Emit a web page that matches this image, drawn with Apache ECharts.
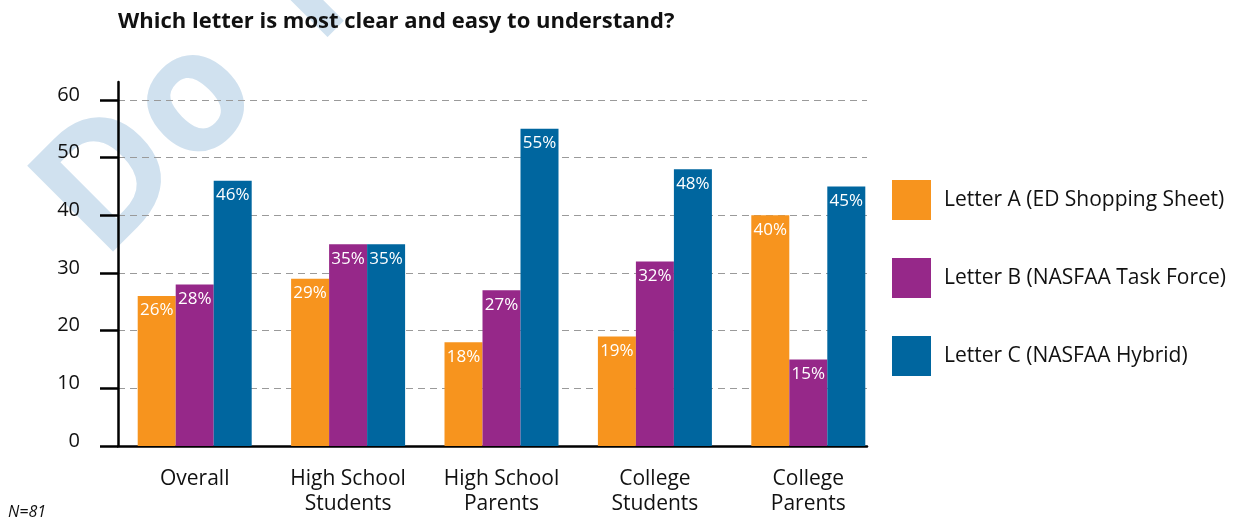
<!DOCTYPE html>
<html>
<head>
<meta charset="utf-8">
<script src="https://cdn.jsdelivr.net/npm/echarts@6/dist/echarts.min.js"></script>
<style>
  html, body { margin: 0; padding: 0; background: #fff; }
  #chart { width: 1249px; height: 525px; }
</style>
</head>
<body>
<div id="chart"></div>
<script>
// chart data
const categories = ['Overall', 'High School\nStudents', 'High School\nParents', 'College\nStudents', 'College\nParents'];
const seriesNames = ['Letter A (ED Shopping Sheet)', 'Letter B (NASFAA Task Force)', 'Letter C (NASFAA Hybrid)'];
const letterA = [26, 29, 18, 19, 40];
const letterB = [28, 35, 27, 32, 15];
const letterC = [46, 35, 55, 48, 45];
const yTicks = [0, 60, 10]; // min, max, step

const colors = ['#F7941E', '#962889', '#00669F'];
const font = '"Open Sans", "Noto Sans", sans-serif';

const chart = echarts.init(document.getElementById('chart'));

function barSeries(name, data, color) {
  return {
    name: name,
    type: 'bar',
    xAxisIndex: 0,
    yAxisIndex: 0,
    data: data,
    barWidth: 38,
    barGap: '0%',
    itemStyle: { color: color },
    label: {
      show: true,
      position: 'insideTop',
      distance: 6,
      formatter: '{c}%',
      color: '#fff',
      fontSize: 17,
      fontFamily: font
    },
    z: 3
  };
}

chart.setOption({
  animation: false,
  title: {
    text: 'Which letter is most clear and easy to understand?',
    left: 113,
    top: 6,
    textStyle: { fontSize: 22, fontWeight: 'bold', color: '#111', fontFamily: font }
  },
  legend: {
    orient: 'vertical',
    left: 887,
    top: 175,
    itemWidth: 39,
    itemHeight: 40,
    itemGap: 38,
    icon: 'rect',
    data: seriesNames,
    textStyle: { fontSize: 21, color: '#111', fontFamily: font, padding: [0, 0, 0, 8] }
  },
  grid: [
    { left: 118, right: 364, top: 100, bottom: 79 },   // bars
    { left: 118, right: 382, top: 100, bottom: 79 },   // dashed lines + x axis line
    { left: 118, width: 20, top: 82, bottom: 79 }       // tall y axis line
  ],
  xAxis: [
    {
      gridIndex: 0,
      type: 'category',
      data: categories,
      axisLine: { show: false },
      axisTick: { show: false },
      axisLabel: { fontSize: 21, lineHeight: 25, color: '#111', margin: 21, fontFamily: font }
    },
    {
      gridIndex: 1,
      type: 'value',
      min: 0, max: 1,
      axisLine: { show: true, lineStyle: { color: '#000', width: 2.5 } },
      axisTick: { show: false },
      axisLabel: { show: false },
      splitLine: { show: false }
    },
    {
      gridIndex: 2,
      type: 'value',
      show: false
    }
  ],
  yAxis: [
    {
      gridIndex: 0,
      type: 'value',
      min: yTicks[0], max: yTicks[1], interval: yTicks[2],
      axisLine: { show: false },
      axisTick: { show: true, length: 18, lineStyle: { color: '#000', width: 2.5 } },
      axisLabel: { fontSize: 20, color: '#111', margin: 38, fontFamily: font, verticalAlign: 'bottom', lineHeight: 10 },
      splitLine: { show: false }
    },
    {
      gridIndex: 1,
      type: 'value',
      min: yTicks[0], max: yTicks[1], interval: yTicks[2],
      axisLine: { show: false },
      axisTick: { show: false },
      axisLabel: { show: false },
      splitLine: { show: true, lineStyle: { color: '#9a9a9a', type: [7, 5], width: 1.2 } }
    },
    {
      gridIndex: 2,
      type: 'value',
      min: 0, max: 1,
      axisLine: { show: true, lineStyle: { color: '#000', width: 2.5 } },
      axisTick: { show: false },
      axisLabel: { show: false },
      splitLine: { show: false }
    }
  ],
  graphic: [
    {
      type: 'text',
      x: 68, y: 228,
      rotation: 45 * Math.PI / 180,
      z: -10,
      silent: true,
      style: {
        text: 'Do \u2009Not Distribute',
        font: 'bold 170px ' + font,
        fill: '#D0E1EF',
        textAlign: 'left',
        textVerticalAlign: 'middle'
      }
    },
    {
      type: 'text',
      left: 8,
      top: 504,
      style: {
        text: 'N=81',
        font: 'italic 16px ' + font,
        fill: '#111'
      }
    }
  ],
  series: [
    barSeries(seriesNames[0], letterA, colors[0]),
    barSeries(seriesNames[1], letterB, colors[1]),
    barSeries(seriesNames[2], letterC, colors[2])
  ]
});
</script>
</body>
</html>
